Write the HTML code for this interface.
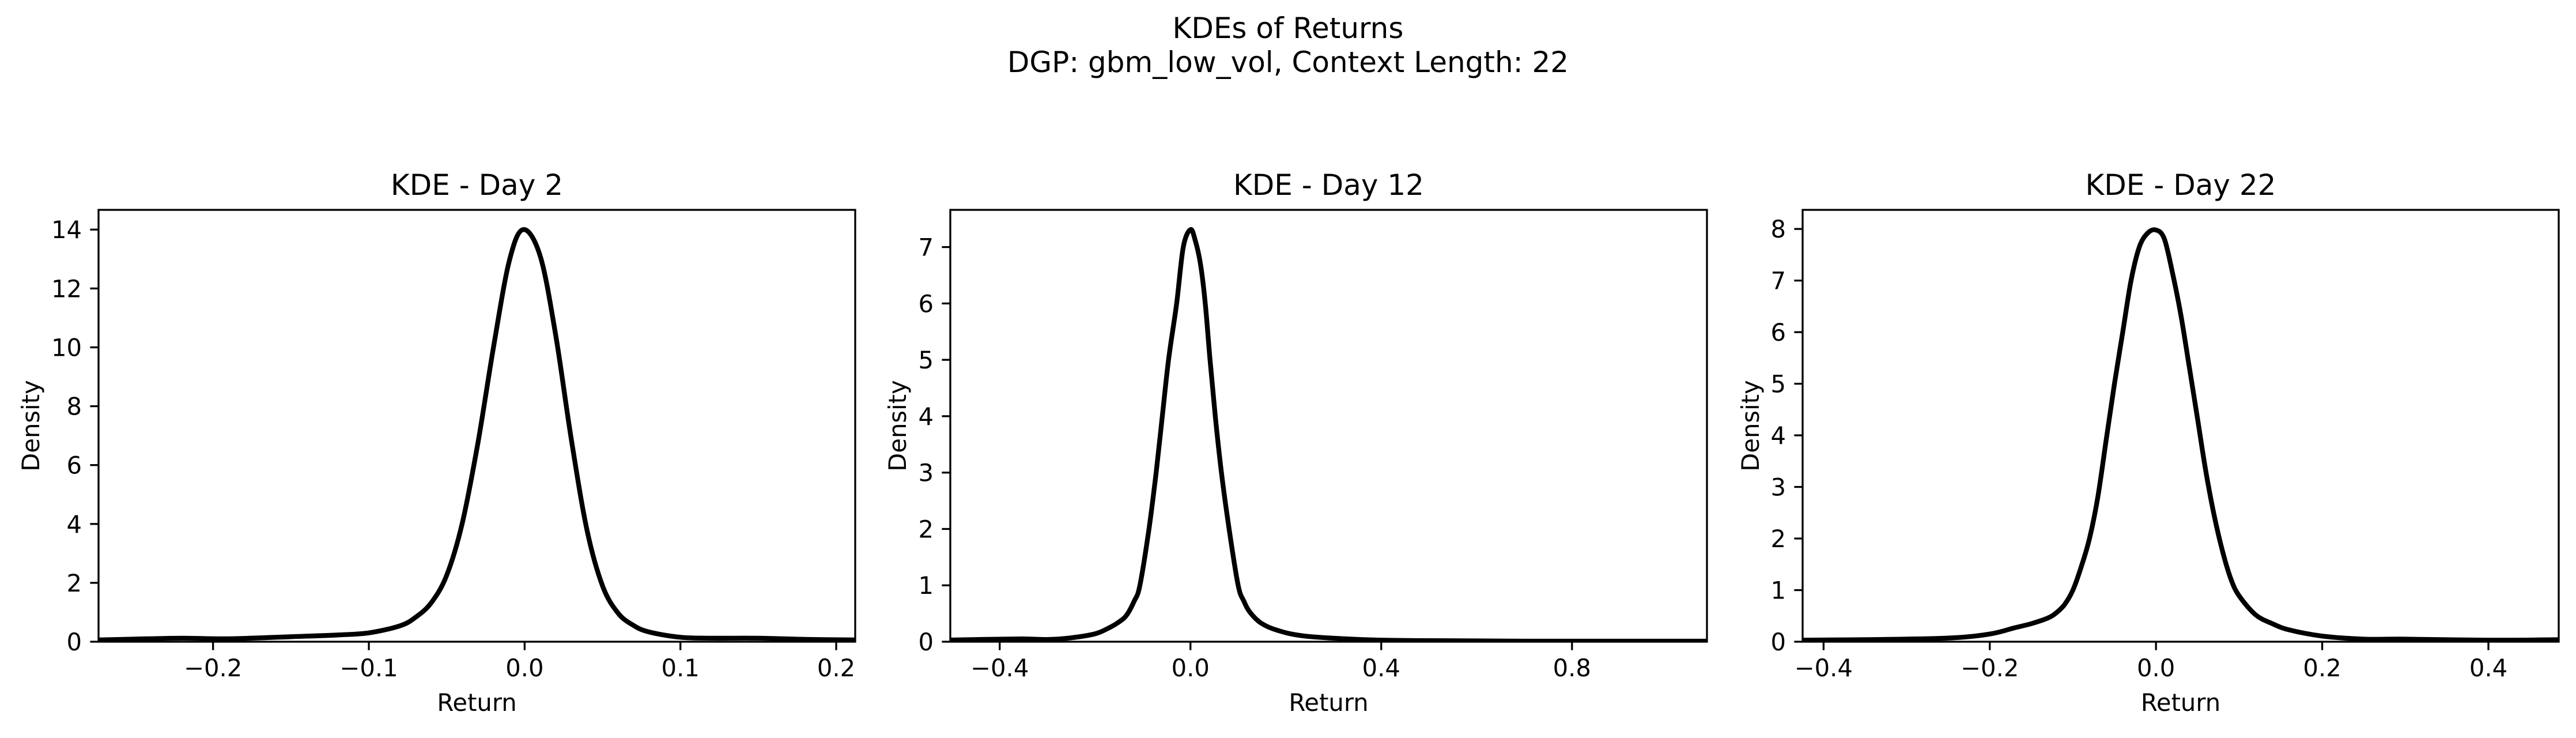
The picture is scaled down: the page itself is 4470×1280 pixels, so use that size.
<!DOCTYPE html>
<html><head><meta charset="utf-8"><style>
html,body{margin:0;padding:0;background:#fff;}
svg text{font-family:"DejaVu Sans","Liberation Sans",sans-serif;fill:#000;}
</style></head><body>
<svg id="fig" width="4470" height="1275" viewBox="0 0 4470 1275" xmlns="http://www.w3.org/2000/svg">
<rect width="4470" height="1275" fill="#fff"/>
<text x="2235" y="66" font-size="50" text-anchor="middle">KDEs of Returns</text>
<text x="2235" y="125" font-size="50" text-anchor="middle">DGP: gbm_low_vol, Context Length: 22</text>
</svg>
<script>
// Panel 1: Day 2
const day2X = [-0.2735,-0.25,-0.22,-0.19,-0.15,-0.12,-0.10,-0.08,-0.07,-0.06,-0.05,-0.04,-0.03,-0.02,-0.01,-0.001,0.01,0.02,0.03,0.04,0.05,0.06,0.07,0.08,0.10,0.12,0.15,0.18,0.2122];
const day2Y = [0.06,0.09,0.12,0.10,0.17,0.23,0.30,0.54,0.83,1.32,2.26,4.03,6.75,10.0,12.9,14.0,13.1,10.4,6.86,3.8,1.9,0.97,0.55,0.33,0.15,0.12,0.12,0.08,0.06];
const day2XTicks = [-0.2,-0.1,0.0,0.1,0.2];
const day2XTickLabels = ["\u22120.2","\u22120.1","0.0","0.1","0.2"];
const day2YTicks = [0,2,4,6,8,10,12,14];
// Panel 2: Day 12
const day12X = [-0.5036,-0.36,-0.30,-0.25,-0.20,-0.17,-0.15,-0.134,-0.118,-0.106,-0.087,-0.072,-0.059,-0.046,-0.029,-0.015,0,0.01,0.021,0.031,0.041,0.052,0.065,0.081,0.10,0.112,0.125,0.148,0.183,0.24,0.356,0.472,0.7,1.083];
const day12Y = [0.03,0.05,0.04,0.07,0.14,0.25,0.35,0.47,0.72,1.0,2.0,3.0,4.0,5.0,6.0,7.0,7.31,7.12,6.7,6.0,5.0,4.0,3.0,2.0,1.0,0.72,0.52,0.33,0.2,0.1,0.04,0.02,0.01,0.01];
const day12XTicks = [-0.4,0.0,0.4,0.8];
const day12XTickLabels = ["\u22120.4","0.0","0.4","0.8"];
const day12YTicks = [0,1,2,3,4,5,6,7];
// Panel 3: Day 22
const day22X = [-0.4252,-0.35,-0.25,-0.20,-0.17,-0.15,-0.13,-0.12,-0.11,-0.10,-0.09,-0.08,-0.07,-0.06,-0.05,-0.04,-0.03,-0.02,-0.01,0,0.01,0.02,0.03,0.04,0.05,0.06,0.07,0.08,0.09,0.10,0.12,0.14,0.16,0.20,0.25,0.30,0.40,0.4846];
const day22Y = [0.03,0.04,0.07,0.15,0.27,0.35,0.46,0.56,0.72,1.0,1.45,2.0,2.8,3.9,5.0,6.0,7.0,7.65,7.92,7.98,7.81,7.14,6.33,5.33,4.32,3.3,2.45,1.76,1.22,0.89,0.52,0.35,0.23,0.11,0.05,0.05,0.03,0.04];
const day22XTicks = [-0.4,-0.2,0.0,0.2,0.4];
const day22XTickLabels = ["\u22120.4","\u22120.2","0.0","0.2","0.4"];
const day22YTicks = [0,1,2,3,4,5,6,7,8];

const NS = "http://www.w3.org/2000/svg";
const svg = document.getElementById('fig');
function mk(tag, attrs, parent){ const e=document.createElementNS(NS,tag); for(const k in attrs) e.setAttribute(k,attrs[k]); (parent||svg).appendChild(e); return e; }
function smooth(pts){
  let d='M'+pts[0][0].toFixed(1)+','+pts[0][1].toFixed(1);
  for(let i=0;i<pts.length-1;i++){
    const p0=pts[Math.max(0,i-1)],p1=pts[i],p2=pts[i+1],p3=pts[Math.min(pts.length-1,i+2)];
    const c1x=p1[0]+(p2[0]-p0[0])/6, c1y=p1[1]+(p2[1]-p0[1])/6;
    const c2x=p2[0]-(p3[0]-p1[0])/6, c2y=p2[1]-(p3[1]-p1[1])/6;
    d+='C'+c1x.toFixed(1)+','+c1y.toFixed(1)+' '+c2x.toFixed(1)+','+c2y.toFixed(1)+' '+p2[0].toFixed(1)+','+p2[1].toFixed(1);
  }
  return d;
}

const panels = [
 {key:'day2', title:'KDE - Day 2', L:171, R:1484, xmin:-0.2735, xmax:0.2122, ymax:14.67, xs:day2X, ys:day2Y, xt:day2XTicks, xtl:day2XTickLabels, yt:day2YTicks, ylabX:53},
 {key:'day12', title:'KDE - Day 12', L:1649, R:2962, xmin:-0.5036, xmax:1.083, ymax:7.66, xs:day12X, ys:day12Y, xt:day12XTicks, xtl:day12XTickLabels, yt:day12YTicks, ylabX:1557},
 {key:'day22', title:'KDE - Day 22', L:3128, R:4440, xmin:-0.4252, xmax:0.4846, ymax:8.37, xs:day22X, ys:day22Y, xt:day22XTicks, xtl:day22XTickLabels, yt:day22YTicks, ylabX:3037}
];
const T=364, B=1113;
panels.forEach((p,i)=>{
  const sx = v => p.L + (v-p.xmin)/(p.xmax-p.xmin)*(p.R-p.L);
  const sy = v => B - v/p.ymax*(B-T);
  const g = mk('g',{});
  
  
  const cp = mk('clipPath',{id:'clip'+i}, g);
  mk('rect',{x:p.L,y:T,width:p.R-p.L,height:B-T},cp);
  const pts = p.xs.map((x,k)=>[sx(x), sy(p.ys[k])]);
  const path = mk('path',{d:smooth(pts),fill:'none',stroke:'#000','stroke-width':8.3,'stroke-linejoin':'round','stroke-linecap':'butt','clip-path':'url(#clip'+i+')'}, g);
  
  
  const fr = mk('rect',{x:p.L,y:T,width:p.R-p.L,height:B-T,fill:'none',stroke:'#000','stroke-width':3.3}, g);
  
  
  p.xt.forEach((v,j)=>{
    const x=sx(v);
    const tk = mk('line',{x1:x,x2:x,y1:B,y2:B+14.6,stroke:'#000','stroke-width':3.3}, g);
    
    
    const tl = mk('text',{x:x,y:1173,'font-size':41.7,'text-anchor':'middle'}, g);
    tl.textContent = p.xtl[j];
    
    
  });
  p.yt.forEach(v=>{
    const y=sy(v);
    const tk = mk('line',{x1:p.L-14.6,x2:p.L,y1:y,y2:y,stroke:'#000','stroke-width':3.3}, g);
    
    
    const tl = mk('text',{x:p.L-29,y:y+15,'font-size':41.7,'text-anchor':'end'}, g);
    tl.textContent = String(v);
    
    
  });
  const xl = mk('text',{x:(p.L+p.R)/2,y:1233,'font-size':41.7,'text-anchor':'middle'}, g);
  xl.textContent='Return';
  
  
  const yl = mk('text',{x:p.ylabX+15,y:(T+B)/2,'font-size':41.7,'text-anchor':'middle',transform:'rotate(-90 '+(p.ylabX+15)+' '+((T+B)/2)+')'}, g);
  yl.textContent='Density';
  
  
  const tt = mk('text',{x:(p.L+p.R)/2,y:338,'font-size':50,'text-anchor':'middle'}, g);
  tt.textContent=p.title;
  
  
});
</script>
</body></html>
